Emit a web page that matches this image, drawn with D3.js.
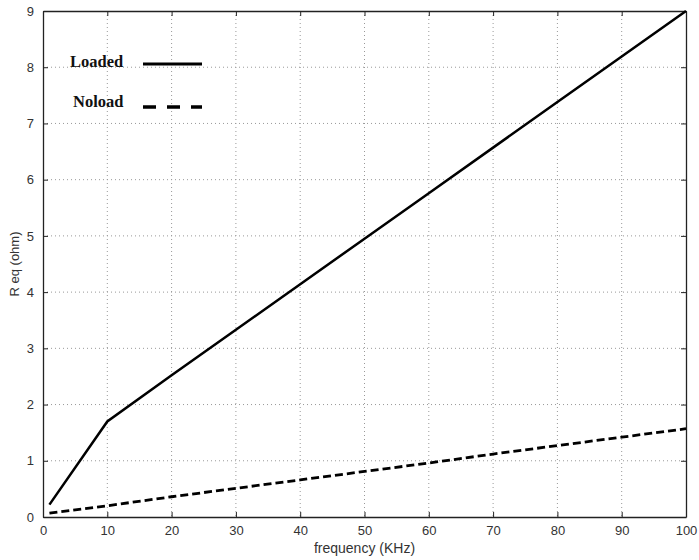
<!DOCTYPE html>
<html>
<head>
<meta charset="utf-8">
<script src="https://cdn.jsdelivr.net/npm/d3@7"></script>
<style>
  body { margin: 0; background: #fff; }
  .tick text { font-family: "Liberation Sans", Arial, sans-serif; font-size: 13px; fill: #333; }
</style>
</head>
<body>
<div id="chart"></div>
<script>
var width = 699,
    height = 560;

// data
var freq = [1, 10, 20, 30, 40, 50, 60, 70, 80, 90, 100];
var loaded = [0.22, 1.7, 2.52, 3.33, 4.14, 4.95, 5.76, 6.57, 7.38, 8.19, 9.0];
var noload = [0.07, 0.2, 0.36, 0.51, 0.66, 0.81, 0.96, 1.12, 1.27, 1.42, 1.57];
var xTicks = [0, 10, 20, 30, 40, 50, 60, 70, 80, 90, 100];
var yTicks = [0, 1, 2, 3, 4, 5, 6, 7, 8, 9];

// plot box (window.top is reserved, so use other names)
var pLeft = 43, pRight = 686, pTop = 11, pBottom = 517;

var svg = d3.select("#chart").append("svg")
    .attr("width", width)
    .attr("height", height);

var x = d3.scaleLinear().domain([0, 100]).range([pLeft, pRight]);
var y = d3.scaleLinear().domain([0, 9]).range([pBottom, pTop]);

// grid
svg.selectAll(".vgrid")
    .data(xTicks.slice(1, -1))
    .enter().append("line")
    .attr("x1", function(d){ return x(d); })
    .attr("x2", function(d){ return x(d); })
    .attr("y1", pTop).attr("y2", pBottom)
    .style("stroke", "#999")
    .style("stroke-width", 1)
    .style("stroke-dasharray", "1,3");

svg.selectAll(".hgrid")
    .data(yTicks.slice(1, -1))
    .enter().append("line")
    .attr("y1", function(d){ return y(d); })
    .attr("y2", function(d){ return y(d); })
    .attr("x1", pLeft).attr("x2", pRight)
    .style("stroke", "#999")
    .style("stroke-width", 1)
    .style("stroke-dasharray", "1,3");

// axes, ticks pointing inward
svg.append("g")
    .attr("transform", "translate(0," + pBottom + ")")
    .call(d3.axisBottom(x).tickValues(xTicks).tickSizeInner(-5).tickSizeOuter(0).tickPadding(9));
svg.append("g")
    .attr("transform", "translate(0," + pTop + ")")
    .call(d3.axisTop(x).tickValues(xTicks).tickSizeInner(-5).tickSizeOuter(0).tickFormat(""));
svg.append("g")
    .attr("transform", "translate(" + pLeft + ",0)")
    .call(d3.axisLeft(y).tickValues(yTicks).tickSizeInner(-5).tickSizeOuter(0).tickPadding(9));
svg.append("g")
    .attr("transform", "translate(" + pRight + ",0)")
    .call(d3.axisRight(y).tickValues(yTicks).tickSizeInner(-5).tickSizeOuter(0).tickFormat(""));

svg.selectAll(".domain").style("stroke", "#222").style("stroke-width", 1.3);
svg.selectAll(".tick line").style("stroke", "#222");

// series
var line = d3.line()
    .x(function(d, i){ return x(freq[i]); })
    .y(function(d){ return y(d); });

svg.append("path")
    .datum(loaded)
    .attr("d", line)
    .style("fill", "none")
    .style("stroke", "#000")
    .style("stroke-width", 2.5);

svg.append("path")
    .datum(noload)
    .attr("d", line)
    .style("fill", "none")
    .style("stroke", "#000")
    .style("stroke-width", 2.8)
    .style("stroke-dasharray", "8,4");

// legend
var legend = svg.append("g");
legend.append("text")
    .attr("x", 70).attr("y", 67)
    .text("Loaded")
    .style("font-family", "'Liberation Serif', 'Times New Roman', serif")
    .style("font-weight", "bold")
    .style("font-size", "16.5px")
    .style("fill", "#111");
legend.append("line")
    .attr("x1", 143).attr("x2", 202).attr("y1", 64).attr("y2", 64)
    .style("stroke", "#000").style("stroke-width", 3);
legend.append("text")
    .attr("x", 73).attr("y", 107)
    .text("Noload")
    .style("font-family", "'Liberation Serif', 'Times New Roman', serif")
    .style("font-weight", "bold")
    .style("font-size", "16.5px")
    .style("fill", "#111");
legend.append("line")
    .attr("x1", 143).attr("x2", 202).attr("y1", 107).attr("y2", 107)
    .style("stroke", "#000").style("stroke-width", 3.5)
    .style("stroke-dasharray", "13,11");

// axis labels
svg.append("text")
    .attr("x", (pLeft + pRight) / 2).attr("y", 553)
    .attr("text-anchor", "middle")
    .text("frequency (KHz)")
    .style("font-family", "'Liberation Sans', Arial, sans-serif")
    .style("font-size", "14px")
    .style("fill", "#333");

svg.append("text")
    .attr("transform", "translate(19," + (pTop + pBottom) / 2 + ") rotate(-90)")
    .attr("text-anchor", "middle")
    .text("R eq (ohm)")
    .style("font-family", "'Liberation Sans', Arial, sans-serif")
    .style("font-size", "13px")
    .style("fill", "#333");
</script>
</body>
</html>
